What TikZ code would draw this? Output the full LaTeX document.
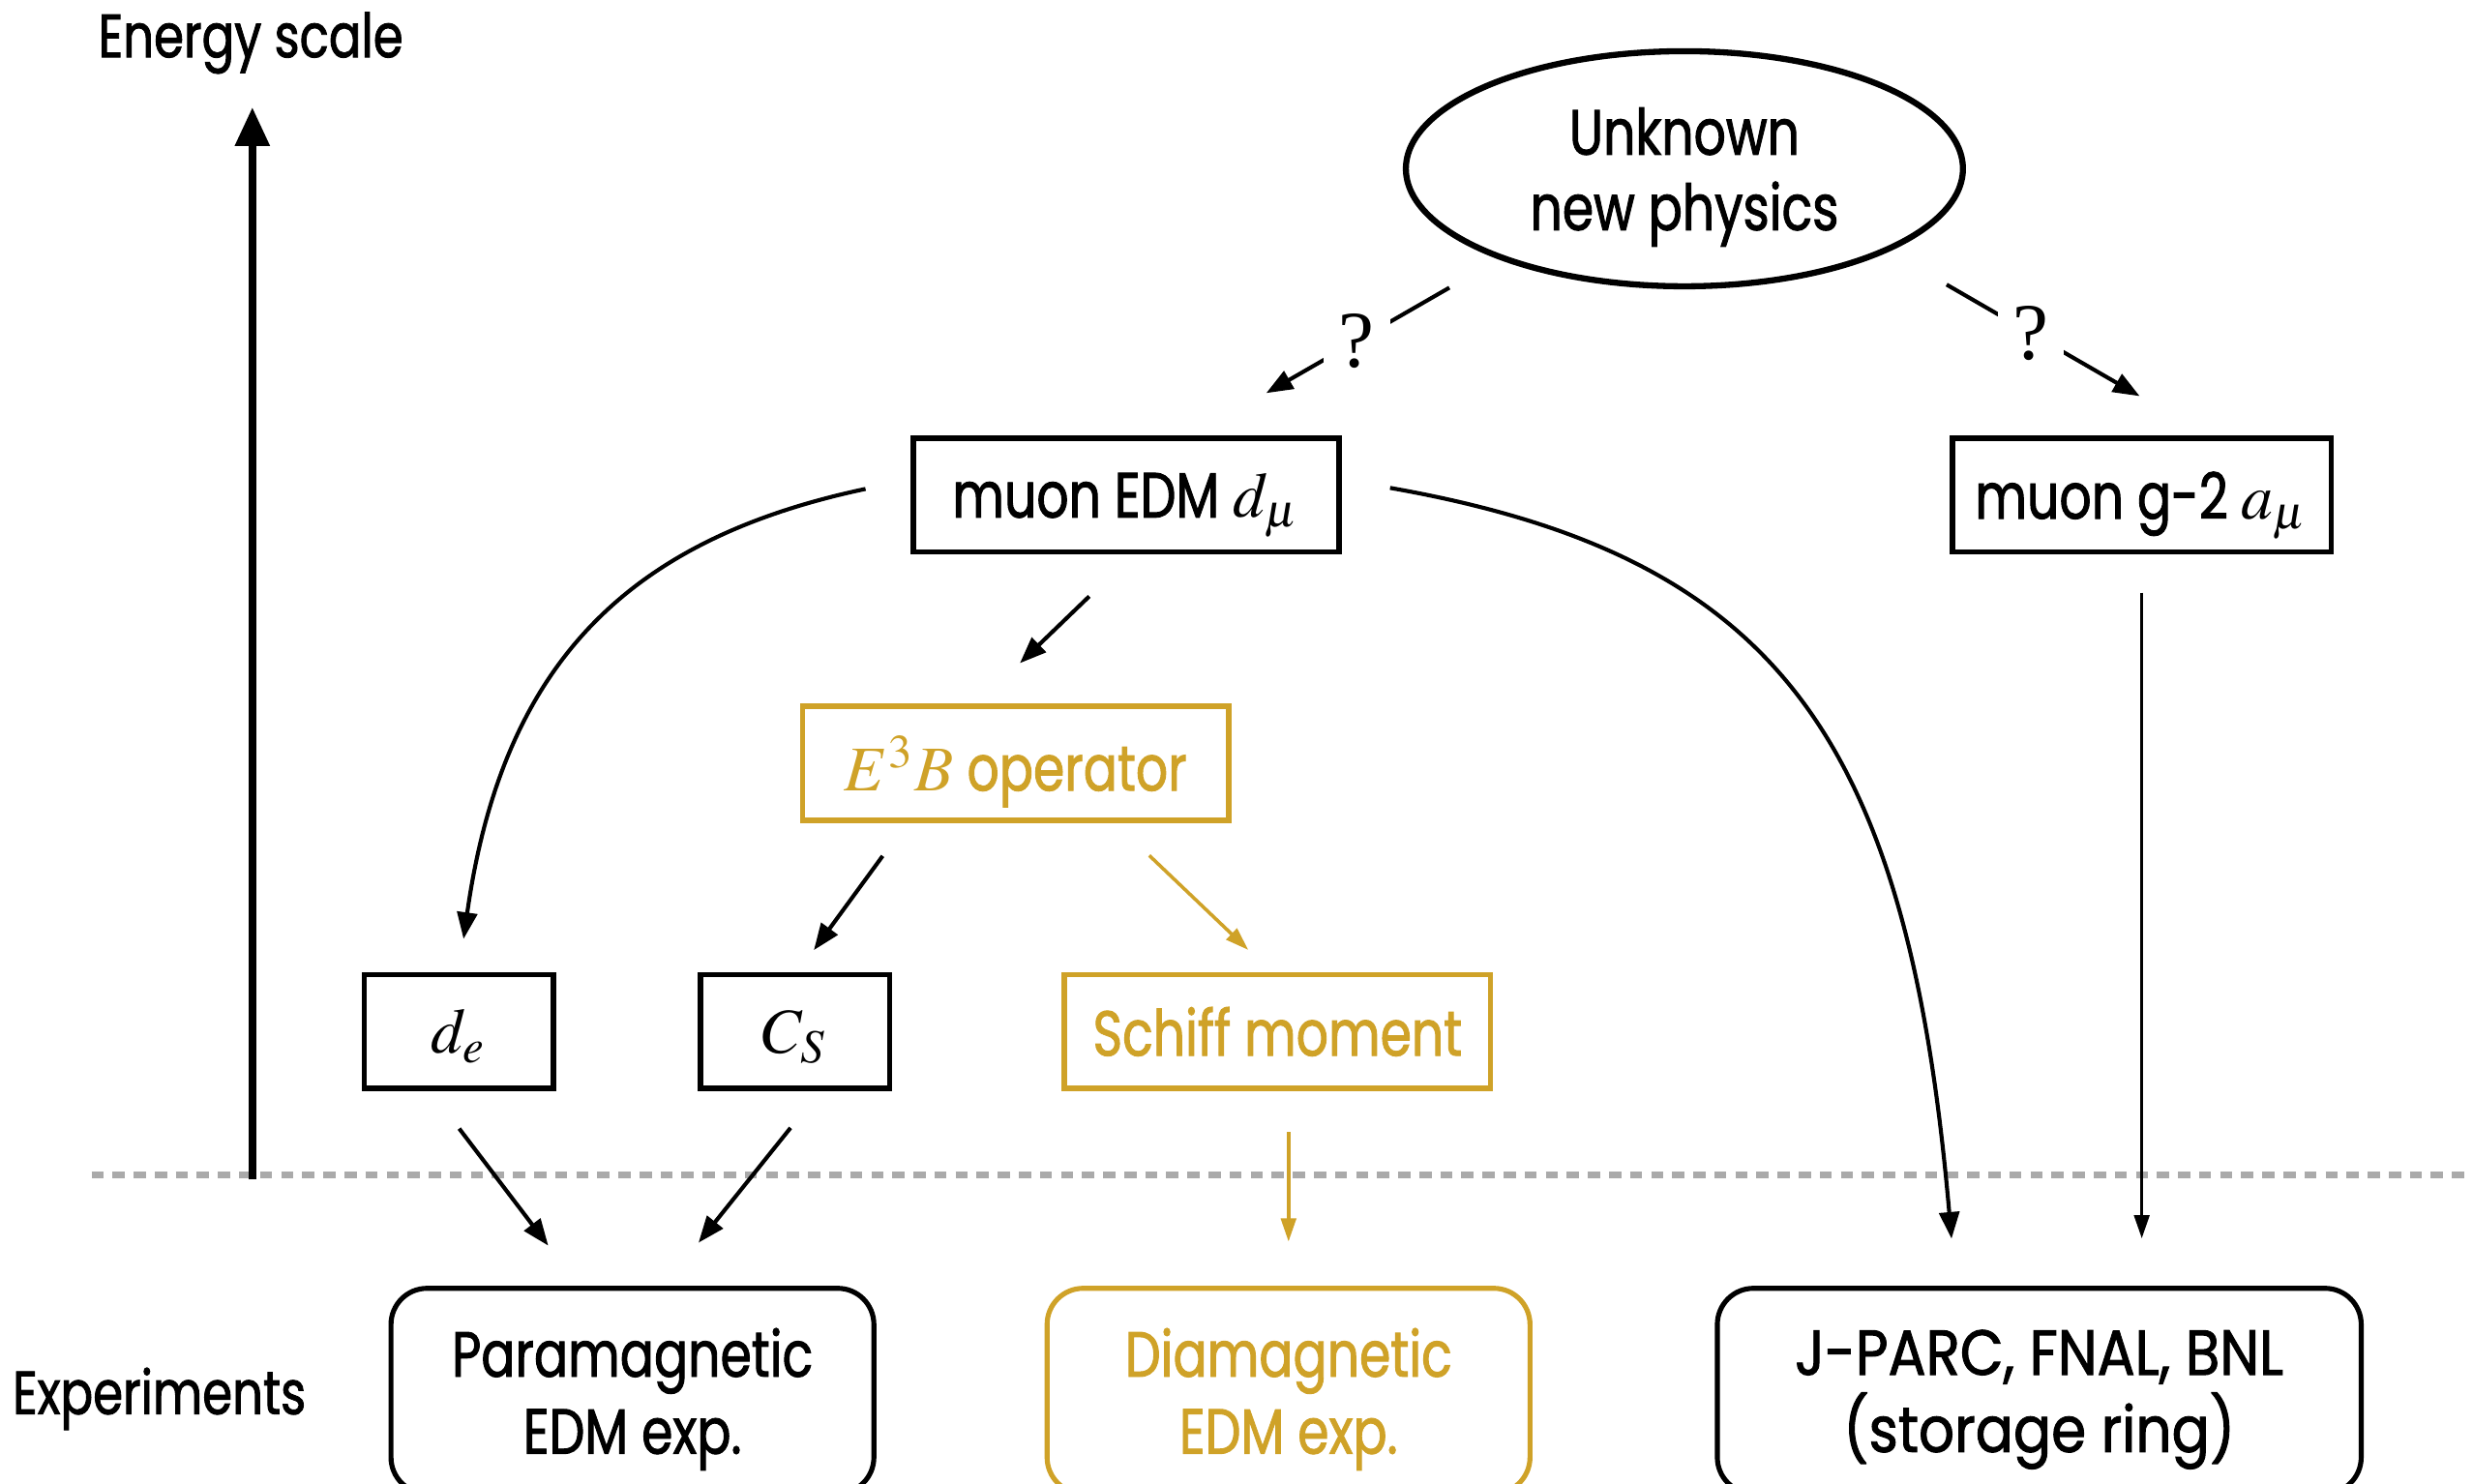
\documentclass[tikz,border=0pt]{standalone}
\usepackage{mathptmx}
\usepackage[no-math]{fontspec}
\setmainfont{Poppins}[FakeStretch=0.79,FakeBold=1.4]
\newfontfamily\wideface{Poppins}[FakeStretch=0.88,FakeBold=1.4]
\newfontfamily\qfont{Liberation Serif}
\usetikzlibrary{shapes.geometric,arrows.meta,calc}
\definecolor{gold}{RGB}{207,162,40}
\definecolor{dashgray}{RGB}{170,170,170}
\tikzset{
  %% plain box (black)
  blk/.style={rectangle,draw=black,line width=1pt,minimum height=0.72cm,
    inner sep=0pt,text depth=0pt,font=\fontsize{11.5}{13.8}\selectfont},
  %% gold box (nuclear side)
  gblk/.style={blk,draw=gold,text=gold},
  %% unknown physics bubble
  npell/.style={ellipse,draw=black,line width=1.1pt,minimum width=3.53cm,
    minimum height=1.49cm,inner sep=0pt,align=center,text depth=0pt,
    font=\fontsize{11.5}{13.6}\selectfont},
  %% experiment box
  expbox/.style={rectangle,rounded corners=6.5pt,draw=#1,text=#1,
    line width=0.9pt,minimum width=3.06cm,minimum height=1.3cm,
    align=center,text depth=0pt,font=\fontsize{11.5}{13.9}\selectfont},
  expbox/.default=black,
  %% side labels
  lbl/.style={font=\fontsize{11}{13}\selectfont,inner sep=0pt,text depth=0pt},
  %% question mark on a link
  qmark/.style={fill=white,inner sep=0pt,minimum width=4.2mm,
    minimum height=3.4mm,font=\qfont\fontsize{14.5}{14.5}\selectfont},
  %% arrows
  arr/.style={-{Triangle[length=4.8pt,width=3.6pt]},line width=0.72pt},
  varr/.style={-{Triangle[length=4.2pt,width=2.7pt]},line width=0.62pt},
  garr/.style={varr,draw=gold,fill=gold},
  axarr/.style={-{Triangle[length=7pt,width=6pt]},line width=1.4pt},
  sep/.style={draw=dashgray,line width=1.1pt,dash pattern=on 2.2pt off 1.6pt},
}
\begin{document}
\begin{tikzpicture}[x=0.01cm,y=0.01cm]
  \useasboundingbox (0,0) rectangle (1568,941);
  \clip (0,0) rectangle (1568,941);

  %% energy axis and split line
  \coordinate (dl) at (58,196);
  \coordinate (dr) at (1568,196);
  \draw[sep] (dl) -- (dr);
  \coordinate (ax0) at (160,193);
  \coordinate (ax1) at (160,873);
  \draw[axarr] (ax0) -- (ax1);
  \node[lbl] (escale) at (159,919) {Energy scale};
  \node[lbl] (expt) at (101,59) {Experiments};

  %% nodes
  \node[npell] (np) at (1068,834) {Unknown\\new physics};
  \node[blk,minimum width=2.7cm] (edm) at (714,627) {muon EDM $d_\mu$};
  \node[blk,minimum width=2.4cm] (g2) at (1358,627) {muon g-2 $a_\mu$};
  \node[gblk,minimum width=2.7cm] (e3b) at (644,457) {$E^3B$ operator};
  \node[blk,minimum width=1.2cm] (de) at (291,287) {$d_e$};
  \node[blk,minimum width=1.2cm] (cs) at (504,287) {$C_S$};
  \node[gblk,minimum width=2.7cm] (schiff) at (810,287) {Schiff moment};
  \node[expbox] (para) at (401,59) {Paramagnetic\\EDM exp.};
  \node[expbox=gold] (dia) at (817,59) {Diamagnetic\\EDM exp.};
  \node[expbox,minimum width=4.08cm] (jparc) at (1293,59)
    {\wideface J-PARC, FNAL, BNL\\\wideface (storage ring)};

  %% links from new physics
  \draw[arr,shorten <=3.6mm,shorten >=5.4mm] (np.206)
    -- node[qmark,pos=0.463] {?} ($(edm.north)+(42,0)$);
  \draw[arr,shorten <=4.2mm,shorten >=5mm] (np.-22)
    -- node[qmark,pos=0.444] {?} ($(g2.north)+(42,0)$);

  %% muon EDM
  \draw[arr,shorten <=3.8mm,shorten >=3.7mm]
    ($(edm.south)+(4,0)$) -- ($(e3b.north)+(-24,0)$);
  \draw[arr,shorten <=2.9mm,shorten >=2.1mm] ([yshift=1mm]edm.west)
    to[out=192,in=82,out distance=1.8cm,in distance=2cm] (de.north);
  \draw[arr,shorten <=3.1mm,shorten >=3mm] ([yshift=1mm]edm.east)
    to[out=-10,in=95,out distance=2.8cm,in distance=3.5cm]
    ($(jparc.north)+(-53,0)$);

  %% E3B operator
  \draw[arr,shorten <=2.6mm,shorten >=1.7mm]
    ($(e3b.south)+(-69,0)$) -- ($(cs.north)+(2,0)$);
  \draw[garr,shorten <=3mm,shorten >=2mm]
    ($(e3b.south)+(63,0)$) -- ($(schiff.north)+(-4,0)$);

  %% to experiments
  \draw[arr,shorten <=3mm,shorten >=3.2mm]
    ($(de.south)+(-18,0)$) -- ($(para.north)+(-34,0)$);
  \draw[arr,shorten <=3mm,shorten >=3.5mm]
    ($(cs.south)+(16,0)$) -- ($(para.north)+(20,0)$);
  \draw[garr,shorten <=2.6mm,shorten >=2.8mm]
    (dia.north |- schiff.south) -- (dia.north);
  \draw[varr,shorten <=2.4mm,shorten >=3mm]
    (g2.south) -- (g2.south |- jparc.north);
\end{tikzpicture}
\end{document}
